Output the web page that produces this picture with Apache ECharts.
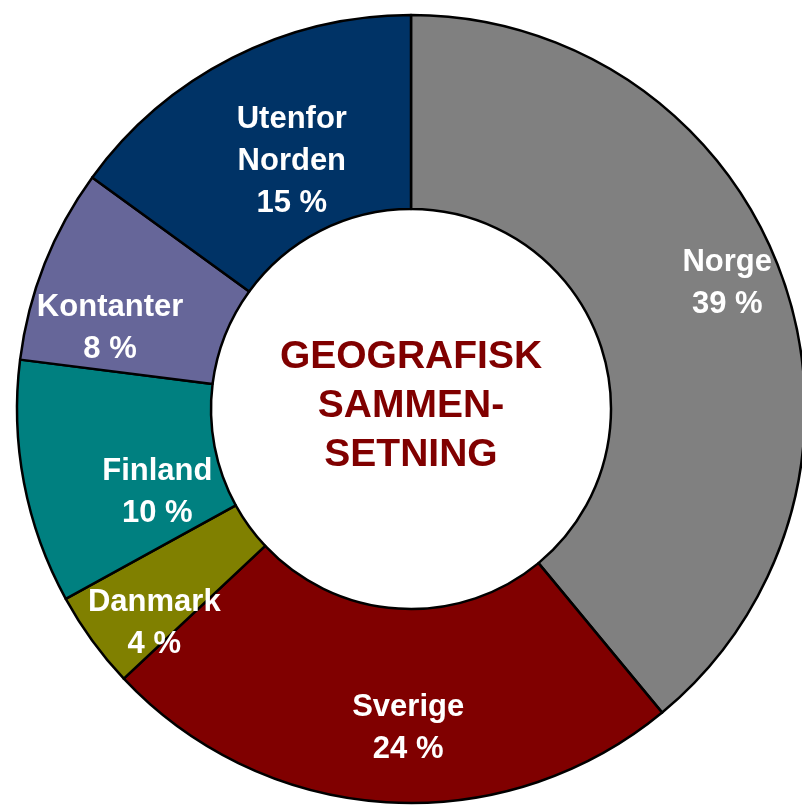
<!DOCTYPE html>
<html lang="no">
<head>
<meta charset="UTF-8">
<title>Geografisk sammensetning</title>
<script src="https://cdn.jsdelivr.net/npm/echarts@6/dist/echarts.min.js"></script>
<style>
    html, body { margin: 0; padding: 0; background: #fff; }
    #chart { width: 802px; height: 807px; }
</style>
</head>
<body>
<div id="chart"></div>
<script>
    // data
    const regions = ['Norge', 'Sverige', 'Danmark', 'Finland', 'Kontanter', 'Utenfor\nNorden'];
    const shares = [39, 24, 4, 10, 8, 15];
    const colors = ['#808080', '#800000', '#808000', '#008080', '#666699', '#003366'];

    // nudge labels to where the original puts them
    const labelOffsets = [[34, -24], [16, 20], [-14, 38], [41, 27], [-22, 30], [17, 20]];

    const chart = echarts.init(document.getElementById('chart'));

    const pieData = regions.map((name, i) => ({
        name: name,
        value: shares[i],
        itemStyle: { color: colors[i] },
        label: { offset: labelOffsets[i] }
    }));

    chart.setOption({
        animation: false,
        graphic: [{
            type: 'text',
            x: 411,
            y: 406,
            style: {
                text: 'GEOGRAFISK\nSAMMEN-\nSETNING',
                fill: '#800000',
                font: 'bold 39px "Liberation Sans", Arial, sans-serif',
                align: 'center',
                verticalAlign: 'middle',
                lineHeight: 49
            }
        }],
        series: [{
            type: 'pie',
            center: [411, 409],
            radius: [200, 394],
            startAngle: 90,
            clockwise: true,
            avoidLabelOverlap: false,
            itemStyle: { borderColor: '#000', borderWidth: 2.5 },
            label: {
                show: true,
                position: 'inside',
                color: '#fff',
                fontFamily: '"Liberation Sans", Arial, sans-serif',
                fontWeight: 'bold',
                fontSize: 31,
                lineHeight: 42,
                formatter: p => p.name + '\n' + p.value + ' %'
            },
            labelLine: { show: false },
            emphasis: { disabled: true },
            data: pieData
        }]
    });
</script>
</body>
</html>
